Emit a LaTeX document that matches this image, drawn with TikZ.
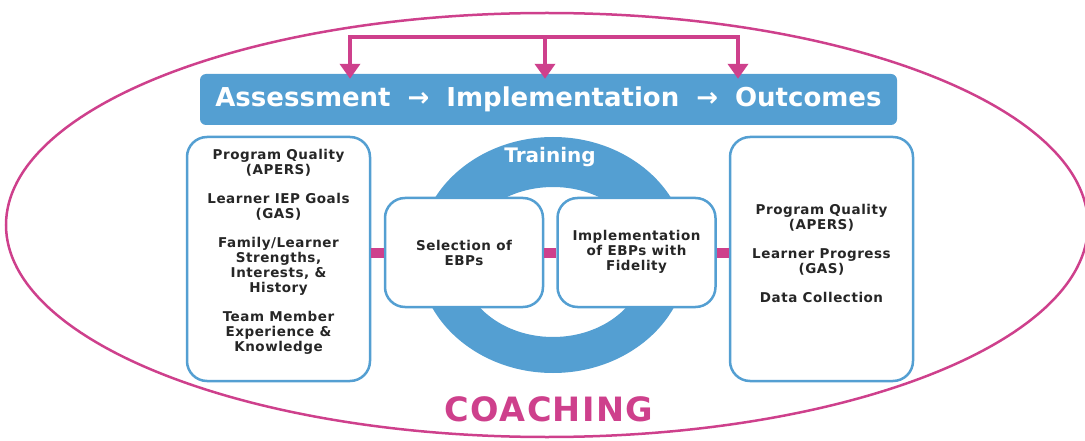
\documentclass[tikz,border=0pt]{standalone}
\usepackage{fontspec}
\setmainfont{DejaVu Sans}
\newfontfamily\wideface[LetterSpace=4]{DejaVu Sans}
\usetikzlibrary{arrows.meta}
\definecolor{coachblue}{RGB}{84,159,210}
\definecolor{coachpink}{RGB}{206,64,140}

\begin{document}
\begin{tikzpicture}[x=1pt,y=-1pt,
    box/.style={draw=coachblue,line width=2.5pt,rounded corners=20pt,fill=white,inner sep=0pt},
    boxtext/.style={align=center,text=black!85,font=\wideface\fontsize{13.5}{15}\selectfont\bfseries},
    link/.style={draw=coachpink,line width=10pt},
    drop/.style={draw=coachpink,line width=4.5pt,-{Triangle[width=20pt,length=15pt]}}]
    \pgfmathsetmacro{\bigboxwidth}{183}
    \pgfmathsetmacro{\bigboxheight}{244}
    \pgfmathsetmacro{\smallboxwidth}{158}
    \pgfmathsetmacro{\smallboxheight}{109}
    \providecommand{\gap}{\\[14pt]}
    \providecommand{\barsep}{\hspace{17pt}→\hspace{17pt}}
    \useasboundingbox (0,0) rectangle (1085,441);
    % coaching around everything
    \draw[coachpink,line width=2.5pt] (547,225) ellipse [x radius=541,y radius=212];
    \node[text=coachpink,font=\wideface\fontsize{33.5}{33}\selectfont\bfseries] (coaching) at (549,409) {COACHING};
    % training ring
    \fill[coachblue,even odd rule] (553,255) ellipse [x radius=135,y radius=118] (553,262) ellipse [x radius=92,y radius=75];
    \node[text=white,font=\fontsize{20}{20}\selectfont\bfseries] (training) at (550,157) {Training};
    % bar
    \node[fill=coachblue,rounded corners=6pt,minimum width=697pt,minimum height=51pt,inner sep=0pt,text=white,font=\fontsize{26}{26}\selectfont\bfseries] (bar) at (548.5,99.5)
    {Assessment\barsep Implementation\barsep Outcomes};
    \coordinate (fork1) at (350,37);
    \coordinate (fork2) at (545,37);
    \coordinate (fork3) at (738,37);
    \foreach \i in {1,2,3}
        \coordinate (tip\i) at ([yshift=-5pt]bar.north -| fork\i);
    \draw[coachpink,line width=4.5pt,line cap=rect] (fork1) -- (fork3);
    \foreach \i in {1,2,3}
        \draw[drop] (fork\i) -- (tip\i);
    % boxes
    \node[box,minimum width=\bigboxwidth pt,minimum height=\bigboxheight pt] (assess) at (278.5,259) {};
    \node[box,minimum width=\smallboxwidth pt,minimum height=\smallboxheight pt] (select) at (464,252.5) {};
    \node[box,minimum width=\smallboxwidth pt,minimum height=\smallboxheight pt] (implement) at (636.5,252.5) {};
    \node[box,minimum width=\bigboxwidth pt,minimum height=\bigboxheight pt] (outcome) at (821.5,259) {};
    \node[boxtext] (assesstext) at ([yshift=7pt]assess.center)
    {Program Quality\\(APERS)\gap Learner IEP Goals\\(GAS)\gap Family/Learner\\Strengths,\\Interests, \&\\History\gap Team Member\\Experience \&\\Knowledge};
    \node[boxtext] (selecttext) at (select.center) {Selection of\\EBPs};
    \node[boxtext] (implementtext) at ([yshift=1pt]implement.center) {Implementation\\of EBPs with\\Fidelity};
    \node[boxtext] (outcometext) at ([yshift=6pt]outcome.center)
    {Program Quality\\(APERS)\gap Learner Progress\\(GAS)\gap Data Collection};
    % pink links
    \draw[link] (assess.east |- select.west) -- (select.west);
    \draw[link] (select.east) -- (implement.west);
    \draw[link] (implement.east) -- (outcome.west |- implement.east);
\end{tikzpicture}
\end{document}
